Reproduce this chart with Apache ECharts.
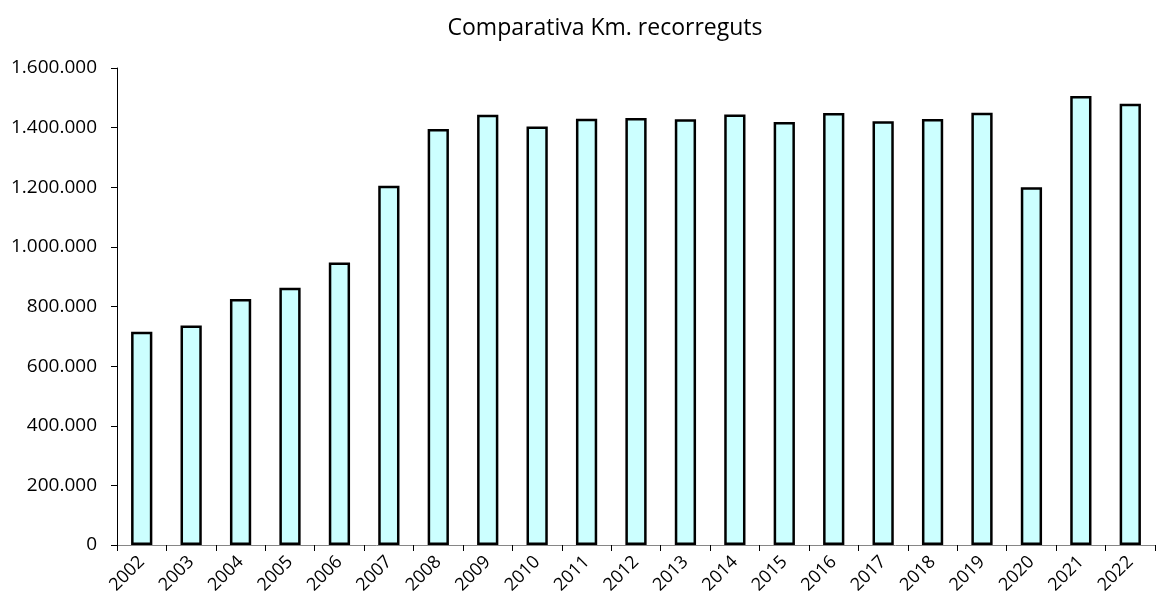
<!DOCTYPE html>
<html>
<head>
<meta charset="utf-8">
<script src="https://cdn.jsdelivr.net/npm/echarts@6/dist/echarts.min.js"></script>
<style>
  html, body { margin: 0; padding: 0; background: #fff; }
  #chart { width: 1167px; height: 605px; }
</style>
</head>
<body>
<div id="chart"></div>
<script>
// anys i km recorreguts
const years = ['2002', '2003', '2004', '2005', '2006', '2007', '2008', '2009', '2010', '2011', '2012',
  '2013', '2014', '2015', '2016', '2017', '2018', '2019', '2020', '2021', '2022'];
const km = [715000, 736000, 825000, 863000, 948000, 1205000, 1395000, 1443000, 1404000, 1430000, 1432000,
  1428000, 1444000, 1419000, 1449000, 1421000, 1429000, 1450000, 1200000, 1506000, 1480000];

const fmt = v => String(v).replace(/\B(?=(\d{3})+(?!\d))/g, '.');

const chart = echarts.init(document.getElementById('chart'));
const option = {
  animation: false,
  title: {
    text: 'Comparativa Km. recorreguts',
    left: 600,
    textAlign: 'center',
    top: 12,
    textStyle: { fontFamily: 'Open Sans', fontSize: 23, fontWeight: 'normal', color: '#000' }
  },
  grid: { left: 117, right: 12, top: 68, bottom: 60 },
  xAxis: {
    type: 'category',
    data: years,
    axisLine: { lineStyle: { color: '#868686', width: 1 } },
    axisTick: { show: true, alignWithLabel: false, length: 6, lineStyle: { color: '#000' } },
    axisLabel: { rotate: 45, fontFamily: 'Open Sans', fontSize: 18, color: '#000', margin: 14, interval: 0 }
  },
  yAxis: {
    type: 'value',
    min: 0,
    max: 1600000,
    interval: 200000,
    splitLine: { show: false },
    axisLine: { show: true, lineStyle: { color: '#000', width: 1 } },
    axisTick: { show: true, length: 6, lineStyle: { color: '#000' } },
    axisLabel: { fontFamily: 'Open Sans', fontSize: 19, color: '#000', margin: 20, formatter: fmt }
  },
  series: [
    {
      type: 'bar',
      data: km,
      barWidth: '43%',
      itemStyle: { color: '#CCFFFF', borderColor: '#000', borderWidth: 2.5 }
    }
  ]
};
chart.setOption(option);
</script>
</body>
</html>
